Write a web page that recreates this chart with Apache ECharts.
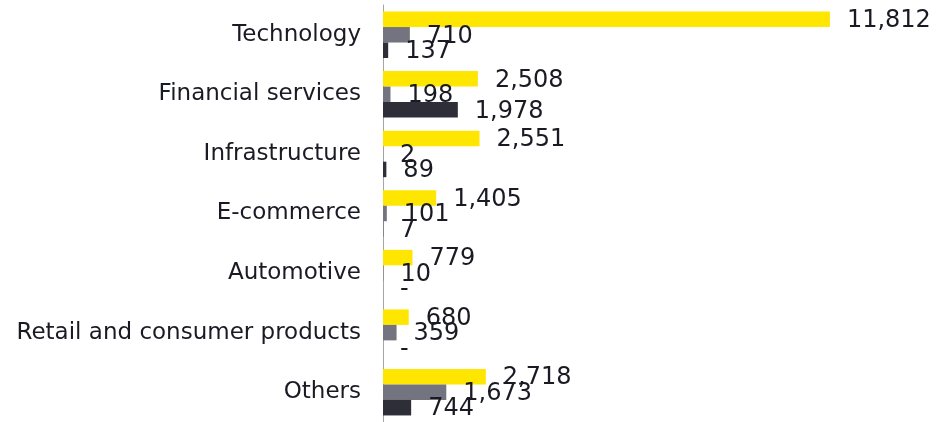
<!DOCTYPE html>
<html>
<head>
<meta charset="utf-8">
<script src="https://cdn.jsdelivr.net/npm/echarts@6/dist/echarts.min.js"></script>
<style>
  html, body { margin: 0; padding: 0; background: #ffffff; }
  #chart { width: 937px; height: 422px; }
</style>
</head>
<body>
<div id="chart"></div>
<script>
// Sectors, top to bottom
const categories = [
  'Technology',
  'Financial services',
  'Infrastructure',
  'E-commerce',
  'Automotive',
  'Retail and consumer products',
  'Others'
];

// Three series per sector (yellow, grey, dark)
const seriesA = [11812, 2508, 2551, 1405, 779, 680, 2718];
const seriesB = [710, 198, 2, 101, 10, 359, 1673];
const seriesC = [137, 1978, 89, 7, 0, 0, 744];

const colors = ['#FFE600', '#747480', '#2E2E38'];
const textColor = '#1a1a24';
const fontFamily = '"DejaVu Sans", sans-serif';

const fmt = v => v === 0 ? '-' : v.toLocaleString('en-US');

function barSeries(data, color) {
  return {
    type: 'bar',
    data: data,
    itemStyle: { color: color },
    barGap: '0%',
    barCategoryGap: '22%',
    silent: true,
    label: {
      show: true,
      position: 'right',
      distance: 17,
      offset: [0, 1.5],
      color: textColor,
      fontFamily: fontFamily,
      fontSize: 24,
      formatter: p => fmt(p.value)
    }
  };
}

const chart = echarts.init(document.getElementById('chart'), null, { renderer: 'canvas' });
chart.setOption({
  animation: false,
  backgroundColor: '#ffffff',
  grid: { left: 383, top: 5, width: 454, height: 420, containLabel: false },
  xAxis: {
    type: 'value',
    min: 0,
    max: 12000,
    show: false
  },
  yAxis: {
    type: 'category',
    data: categories,
    inverse: true,
    axisLine: { show: true, lineStyle: { color: '#a6a6a6', width: 1 } },
    axisTick: { show: false },
    axisLabel: {
      margin: 22,
      color: textColor,
      fontFamily: fontFamily,
      fontSize: 23
    },
    splitLine: { show: false }
  },
  series: [
    barSeries(seriesA, colors[0]),
    barSeries(seriesB, colors[1]),
    barSeries(seriesC, colors[2])
  ]
});
</script>
</body>
</html>
